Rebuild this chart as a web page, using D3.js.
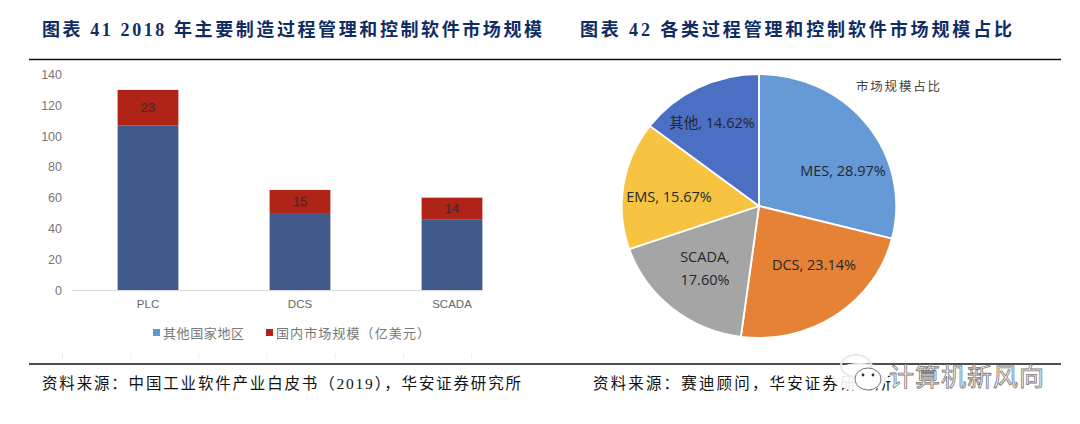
<!DOCTYPE html>
<html>
<head>
<meta charset="utf-8">
<script src="https://cdn.jsdelivr.net/npm/d3@7"></script>
<style>
body { margin: 0; background: #fff; }
svg { display: block; }
text { font-family: "Liberation Serif", "Noto Sans CJK SC", serif; }
.cn { font-family: "Liberation Serif", "Noto Sans CJK SC", serif; }
.num { font-family: "Liberation Sans", "Noto Sans CJK SC", sans-serif; }
.lbl { font-family: "Open Sans", "Noto Sans CJK SC", sans-serif; }
</style>
</head>
<body>
<svg id="chart" width="1080" height="424"></svg>
<script>
// bar chart data
var products = ['PLC', 'DCS', 'SCADA'];
var otherRegions = [107, 50, 46];
var domestic = [23, 15, 14];
var barTicks = [0, 20, 40, 60, 80, 100, 120, 140];
var seriesNames = ['其他国家地区', '国内市场规模（亿美元）'];

// pie chart data
var pieNames = ['MES', 'DCS', 'SCADA', 'EMS', '其他'];
var pieShares = [28.97, 23.14, 17.60, 15.67, 14.62];

var navy = '#0f2c63', rule = '#111';
var svg = d3.select('#chart');

// headers, rules and sources
function fixedText(x, y, str, len, size, color, weight) {
	return svg.append('text')
		.attr('class', 'cn')
		.attr('x', x).attr('y', y)
		.attr('font-size', size)
		.attr('font-weight', weight)
		.attr('fill', color)
		.attr('textLength', len)
		.attr('lengthAdjust', 'spacing')
		.text(str);
}
fixedText(42, 36, '图表 41 2018 年主要制造过程管理和控制软件市场规模', 500, 18, navy, 700);
fixedText(580, 36, '图表 42 各类过程管理和控制软件市场规模占比', 432, 18, navy, 700);
fixedText(42, 389, '资料来源：中国工业软件产业白皮书（2019），华安证券研究所', 479, 15.5, '#111', 400);
fixedText(593, 389, '资料来源：赛迪顾问，华安证券研究所', 298, 15.5, '#111', 400);

[59.5, 364].forEach(function(y) {
	svg.append('line')
		.attr('x1', 29).attr('x2', 1061)
		.attr('y1', y).attr('y2', y)
		.attr('stroke', rule).attr('stroke-width', 1.5);
});

// stacked bars
var x = d3.scaleBand().domain(products).range([72, 528]).paddingInner(0.6).paddingOuter(0.3);
var y = d3.scaleLinear().domain([0, 140]).range([290, 74.5]);

var rows = products.map(function(p, i) {
	return { product: p, other: otherRegions[i], domestic: domestic[i] };
});
var stacked = d3.stack().keys(['other', 'domestic'])(rows);
var barColors = { other: '#3f5a8a', domestic: '#b02418' };

svg.append('g').selectAll('g')
	.data(stacked)
	.enter().append('g')
	.attr('fill', function(s) { return barColors[s.key]; })
	.selectAll('rect')
	.data(function(s) { return s; })
	.enter().append('rect')
	.attr('x', function(d) { return x(d.data.product); })
	.attr('width', x.bandwidth())
	.attr('y', function(d) { return y(d[1]); })
	.attr('height', function(d) { return y(d[0]) - y(d[1]); });

svg.append('g').selectAll('text')
	.data(stacked[1])
	.enter().append('text')
	.attr('class', 'num')
	.attr('x', function(d) { return x(d.data.product) + x.bandwidth() / 2; })
	.attr('y', function(d) { return (y(d[0]) + y(d[1])) / 2 + 4.5; })
	.attr('text-anchor', 'middle')
	.attr('font-size', 13)
	.attr('fill', '#4a2a2a')
	.attr('stroke', '#4a2a2a')
	.attr('stroke-width', 0.3)
	.text(function(d) { return d.data.domestic; });

var yAxis = d3.axisLeft(y).tickValues(barTicks).tickSize(0).tickPadding(0);
var yG = svg.append('g').attr('transform', 'translate(62,0)').call(yAxis);
yG.select('.domain').remove();
yG.selectAll('text').attr('class', 'num').attr('font-size', 12.5).attr('fill', '#777');

var xAxis = d3.axisBottom(x).tickSize(0).tickPadding(10);
var xG = svg.append('g').attr('transform', 'translate(0,290)').call(xAxis);
xG.select('.domain').remove();
xG.selectAll('text').attr('class', 'num').attr('font-size', 11.5).attr('fill', '#666');

svg.append('line')
	.attr('x1', 72).attr('x2', x('SCADA') + x.bandwidth())
	.attr('y1', 290.5).attr('y2', 290.5)
	.attr('stroke', '#d9d9d9').attr('stroke-width', 1);

// legend
var legend = [
	{ name: seriesNames[0], color: '#5b9bd5', x: 153, len: 81 },
	{ name: seriesNames[1], color: '#b02418', x: 266, len: 154 }
];
legend.forEach(function(l) {
	svg.append('rect').attr('x', l.x).attr('y', 329).attr('width', 7).attr('height', 7).attr('fill', l.color);
	fixedText(l.x + 10, 338, l.name, l.len, 13, '#777', 400);
});

// faint ticks above the lower rule
d3.range(7).forEach(function(i) {
	svg.append('line')
		.attr('x1', 62.5 + i * 68.2).attr('x2', 62.5 + i * 68.2)
		.attr('y1', 353).attr('y2', 359)
		.attr('stroke', '#eeeeee');
});

// pie, slightly stretched horizontally like the source image
var pieColors = ['#659ad6', '#e58236', '#a5a5a5', '#f6c440', '#4a6fc3'];
var radius = 132;
var pie = d3.pie().sort(null).value(function(d) { return d; });
var arc = d3.arc().innerRadius(0).outerRadius(radius);
var pieG = svg.append('g').attr('transform', 'translate(759,206) scale(1.04,1)');

pieG.selectAll('path')
	.data(pie(pieShares))
	.enter().append('path')
	.attr('d', arc)
	.attr('fill', function(d, i) { return pieColors[i]; })
	.attr('stroke', '#fff')
	.attr('stroke-width', 1.8);

// slice label anchors, placed by eye
var labelPos = [[843, 176], [814, 270], [705, 262], [669, 202], [712, 128]];
pieNames.forEach(function(name, i) {
	var val = pieShares[i].toFixed(2) + '%';
	var t = svg.append('text')
		.attr('class', 'lbl')
		.attr('x', labelPos[i][0]).attr('y', labelPos[i][1])
		.attr('text-anchor', 'middle')
		.attr('font-size', 14.5)
		.attr('fill', '#26262e');
	if (name === 'SCADA') {
		t.append('tspan').attr('x', labelPos[i][0]).text(name + ',');
		t.append('tspan').attr('x', labelPos[i][0]).attr('dy', 23).text(val);
	} else {
		t.text(name + ', ' + val);
	}
});

fixedText(856, 91, '市场规模占比', 84, 12.5, '#444', 400);

// watermark
svg.append('ellipse').attr('cx', 860).attr('cy', 377).attr('rx', 28).attr('ry', 14).attr('fill', '#fff').attr('opacity', 0.9);
var mark = svg.append('g').attr('fill', 'none').attr('stroke', '#777').attr('stroke-width', 1);
mark.append('ellipse').attr('cx', 856).attr('cy', 366).attr('rx', 15).attr('ry', 11).attr('stroke', '#e8e8e8').attr('stroke-width', 2);
mark.append('ellipse').attr('cx', 868).attr('cy', 379).attr('rx', 13).attr('ry', 11).attr('fill', '#fff');
[[863, 375], [873, 375]].forEach(function(p) {
	svg.append('circle').attr('cx', p[0]).attr('cy', p[1]).attr('r', 1.4).attr('fill', '#333');
});
fixedText(889, 386, '计算机新风向', 155, 25, '#fff', 400)
	.attr('class', 'lbl')
	.attr('stroke', '#777').attr('stroke-width', 0.8);
</script>
</body>
</html>
